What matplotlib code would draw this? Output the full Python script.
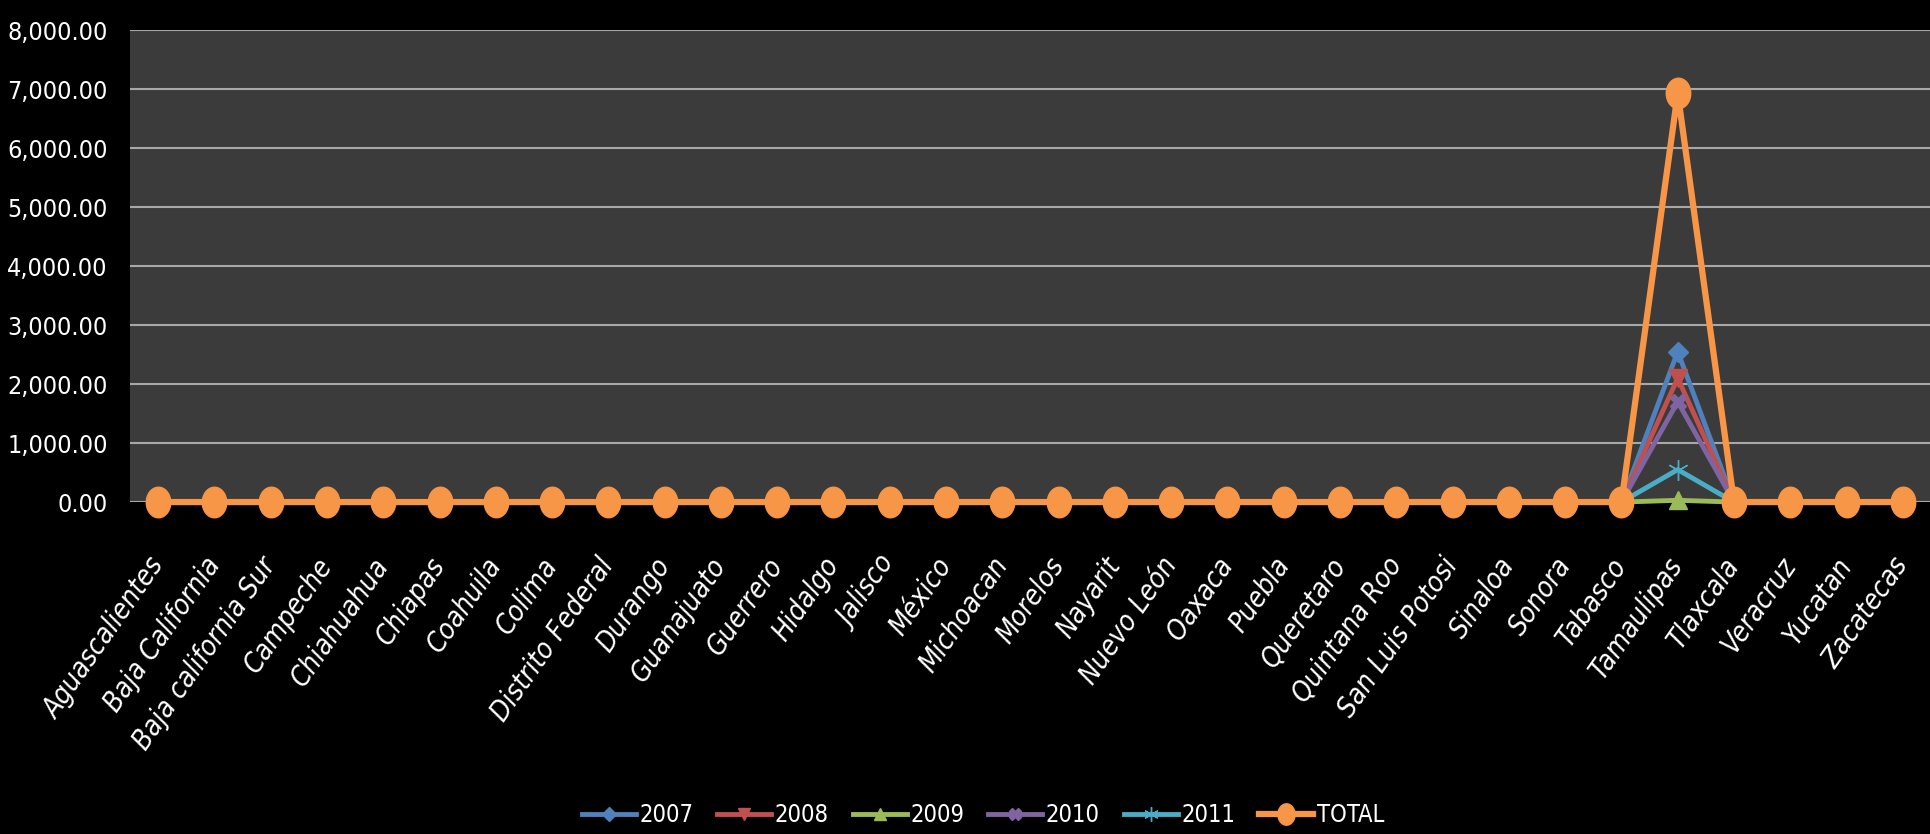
import numpy as np
import matplotlib.pyplot as plt
from matplotlib import font_manager
from matplotlib.path import Path
from matplotlib.ticker import FuncFormatter

# narrow font if there is one, otherwise condensed DejaVu
nombres = {f.name for f in font_manager.fontManager.ttflist}
if "Liberation Sans Narrow" in nombres:
    plt.rcParams['font.family'] = ['Liberation Sans Narrow', 'DejaVu Sans']
else:
    plt.rcParams['font.family'] = ['DejaVu Sans']
    plt.rcParams['font.stretch'] = 'condensed'

estados = ["Aguascalientes", "Baja California", "Baja california Sur", "Campeche",
           "Chiahuahua", "Chiapas", "Coahuila", "Colima", "Distrito Federal",
           "Durango", "Guanajuato", "Guerrero", "Hidalgo", "Jalisco", "México",
           "Michoacan", "Morelos", "Nayarit", "Nuevo León", "Oaxaca", "Puebla",
           "Queretaro", "Quintana Roo", "San Luis Potosi", "Sinaloa", "Sonora",
           "Tabasco", "Tamaulipas", "Tlaxcala", "Veracruz", "Yucatan", "Zacatecas"]

# everything is zero except Tamaulipas
v2007 = [0]*27 + [2550] + [0]*4
v2008 = [0]*27 + [2100] + [0]*4
v2009 = [0]*27 + [30] + [0]*4
v2010 = [0]*27 + [1700] + [0]*4
v2011 = [0]*27 + [550] + [0]*4
total = [0]*27 + [6930] + [0]*4

# oblong marker for the TOTAL series
t = np.linspace(0, 2*np.pi, 60)
ovalo = Path(np.column_stack([0.8*np.cos(t), np.sin(t)]), closed=True)

series = ["2007", "2008", "2009", "2010", "2011", "TOTAL"]
valores = [v2007, v2008, v2009, v2010, v2011, total]
colores = ["#4f81bd", "#c0504d", "#9bbb59", "#8064a2", "#4bacc6", "#f79646"]
marcas = ["D", "v", "^", "X", (6, 2, 0), ovalo]
tamanos = [10, 13, 13, 12, 15, 22]
anchos = [3.5, 3.5, 3.5, 3.5, 3.5, 4.5]

fig = plt.figure(figsize=(19.31, 8.34), dpi=100, facecolor="black")
ax = fig.add_axes([0.0673, 0.398, 0.9327, 0.566])
ax.set_facecolor("#3b3b3b")

x = np.arange(len(estados))
for nombre, val, c, m, ms, lw in zip(series, valores, colores, marcas, tamanos, anchos):
    ax.plot(x, val, color=c, lw=lw, marker=m, ms=ms, mfc=c, mec=c,
            label=nombre, clip_on=False, zorder=3)

ax.set_xlim(-0.5, len(estados) - 0.5)
ax.set_ylim(0, 8000)
ax.set_yticks(np.arange(0, 8001, 1000))
ax.yaxis.set_major_formatter(FuncFormatter(lambda v, p: f"{v:,.2f}"))
ax.grid(axis="y", color="#a8a8a8", lw=1.5)
ax.set_axisbelow(True)
for s in ax.spines.values():
    s.set_visible(False)

ax.set_xticks(x)
ax.set_xticklabels(estados, rotation=55, ha="right", va="center",
                   rotation_mode="anchor", fontstyle="italic", fontsize=20, color="white")
ax.tick_params(axis="x", length=0, pad=42)
ax.tick_params(axis="y", length=0, pad=16, labelsize=18, labelcolor="white")

leg = fig.legend(loc="center", bbox_to_anchor=(0.509, 0.023), ncol=6, frameon=False,
                 fontsize=17, labelcolor="white", handlelength=2.3, handletextpad=0.15,
                 columnspacing=1.0, markerscale=0.7, borderaxespad=0)

fig.savefig("out.png", dpi=100, facecolor="black")
